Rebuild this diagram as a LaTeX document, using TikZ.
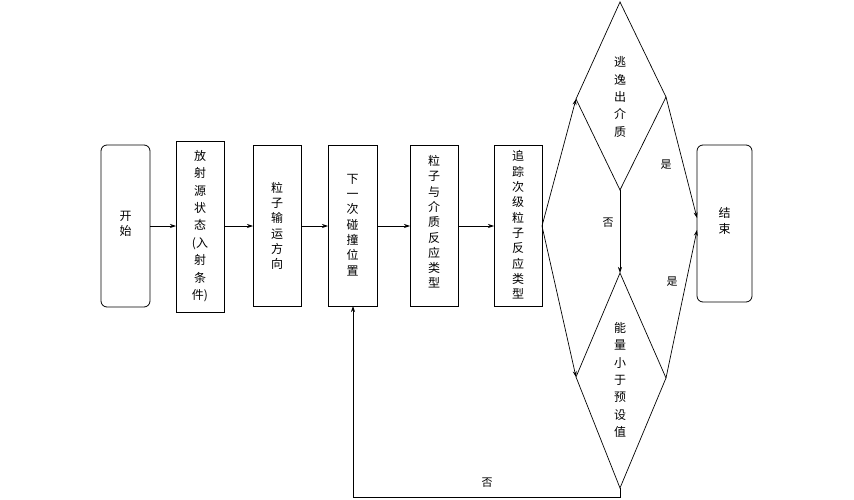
\documentclass[tikz,border=0pt]{standalone}
\usepackage{fontspec}
\newfontfamily\cjk{Noto Sans CJK SC}
\usetikzlibrary{arrows.meta}
\begin{document}
\begin{tikzpicture}[x=1pt,y=-1pt,
  box/.style={draw,line width=0.8pt,inner sep=0pt},
  rbox/.style={box,rounded corners=6pt},
  vtext/.style={align=center,font=\cjk\fontsize{12}{15.3}\selectfont,inner sep=0pt},
  dtext/.style={align=center,font=\cjk\fontsize{12}{17.4}\selectfont,inner sep=0pt},
  lbl/.style={font=\cjk\fontsize{11}{13}\selectfont,inner sep=0pt},
  arr/.style={line width=0.7pt,-{Stealth[length=6pt,width=4pt]}},
  ln/.style={line width=0.7pt}]
\useasboundingbox[fill=white] (0,0) rectangle (854,500);
% boxes
\draw[rbox] (101,145) rectangle (150,307);
\node[vtext] (start) at (125.5,224) {开\\始};
\coordinate (startR) at (150,226);
\draw[box] (176,141) rectangle (224,312);
\node[dtext] (b2) at (200,226) {放\\射\\源\\状\\态\\(入\\射\\条\\件)};
\coordinate (b2L) at (176,226); \coordinate (b2R) at (224,226);
\draw[box] (253,145) rectangle (301,306);
\node[vtext] (b3) at (277,226) {粒\\子\\输\\运\\方\\向};
\coordinate (b3L) at (253,226); \coordinate (b3R) at (301,226);
\draw[box] (328,145) rectangle (377,306);
\node[vtext] (b4) at (352.5,225) {下\\一\\次\\碰\\撞\\位\\置};
\coordinate (b4L) at (328,226); \coordinate (b4R) at (377,226); \coordinate (b4B) at (353,306);
\draw[box] (410,145) rectangle (458,306);
\node[vtext] (b5) at (434,222) {粒\\子\\与\\介\\质\\反\\应\\类\\型};
\coordinate (b5L) at (410,226); \coordinate (b5R) at (458,226);
\draw[box] (494,145) rectangle (542,306);
\node[vtext] (b6) at (518,225) {追\\踪\\次\\级\\粒\\子\\反\\应\\类\\型};
\coordinate (b6L) at (494,226); \coordinate (b6R) at (542,226);
\draw[rbox] (697,145) rectangle (752,302);
\node[vtext] (end) at (724.5,221) {结\\束};
\coordinate (endL1) at (697,218); \coordinate (endL2) at (697,230);
% diamonds
\coordinate (d1T) at (620,2); \coordinate (d1L) at (576,99);
\coordinate (d1R) at (666,97); \coordinate (d1B) at (620,190);
\draw[ln] (d1T) -- (d1R) -- (d1B) -- (d1L) -- cycle;
\node[dtext] (d1) at (620,97) {逃\\逸\\出\\介\\质};
\coordinate (d2T) at (620,273); \coordinate (d2L) at (576,377);
\coordinate (d2R) at (666,378); \coordinate (d2B) at (620,488);
\draw[ln] (d2T) -- (d2R) -- (d2B) -- (d2L) -- cycle;
\node[dtext] (d2) at (620,380) {能\\量\\小\\于\\预\\设\\值};
% connectors
\draw[arr] (startR) -- (b2L);
\draw[arr] (b2R) -- (b3L);
\draw[arr] (b3R) -- (b4L);
\draw[arr] (b4R) -- (b5L);
\draw[arr] (b5R) -- (b6L);
\draw[arr] (b6R) -- (d1L);
\draw[arr] (b6R) -- (d2L);
\draw[arr] (d1B) -- (d2T);
\draw[arr] (d1R) -- (endL1);
\draw[arr] (d2R) -- (endL2);
\coordinate (c1) at (620,497); \coordinate (c2) at (353,497);
\draw[arr] (d2B) -- (c1) -- (c2) -- (b4B);
\node[lbl] (no1) at (608,223) {否};
\node[lbl] (yes1) at (666,165) {是};
\node[lbl] (yes2) at (672,282) {是};
\node[lbl] (no2) at (487,483) {否};
\end{tikzpicture}
\end{document}
